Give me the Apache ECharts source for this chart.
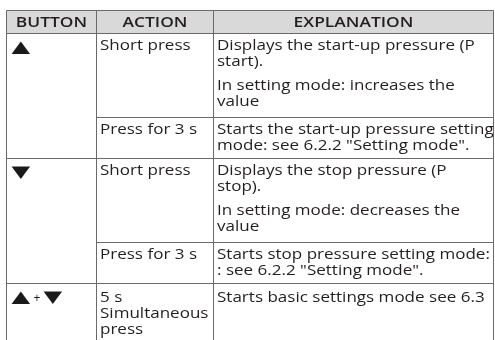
<!DOCTYPE html>
<html><head><meta charset="utf-8">
<script src="https://cdn.jsdelivr.net/npm/echarts@6/dist/echarts.min.js"></script>
<style>html,body{margin:0;padding:0;background:#fff}#c{width:495px;height:340px}</style>
</head><body><div id="c"></div>
<script>
// ---- data ----
const headers = ['BUTTON', 'ACTION', 'EXPLANATION'];
const buttons = ['▲', '▼', '▲+▼'];
const buttonRowSpans = [2, 2, 1];
const actions = [['Short press'], ['Press for 3 s'], ['Short press'], ['Press for 3 s'], ['5 s', 'Simultaneous', 'press']];
const explanations = [
  [['Displays the start-up pressure (P', 'start).'], ['In setting mode: increases the', 'value']],
  [['Starts the start-up pressure setting', 'mode: see 6.2.2 "Setting mode".']],
  [['Displays the stop pressure (P', 'stop).'], ['In setting mode: decreases the', 'value']],
  [['Starts stop pressure setting mode:', ': see 6.2.2 "Setting mode".']],
  [['Starts basic settings mode see 6.3']]
];

// ---- layout (px units of the hidden axes) ----
const colEdges = [0, 90, 207, 487];
const headerH = 23;
const rowHeights = [84, 41, 84, 41, 62];
const rowPadTop = [12.5, 12.5, 12.5, 12.5, 14.5];
const FONT = 'Open Sans';
const FS = 15;
const SX = 1.135;
const LH = 16;
const PARA = 8;
const TEXT = '#231f20';
const LINE = '#6a6a6a';

const rowEdges = [headerH];
rowHeights.forEach(h => rowEdges.push(rowEdges[rowEdges.length - 1] + h));

const cells = [];
headers.forEach((h, i) => cells.push({ kind: 'header', col: i, r0: 0, r1: headerH, text: h }));
let r = 0;
buttons.forEach((b, i) => {
  cells.push({ kind: 'button', col: 0, r0: rowEdges[r], r1: rowEdges[r + buttonRowSpans[i]], text: b });
  r += buttonRowSpans[i];
});
actions.forEach((a, i) => cells.push({ kind: 'lines', col: 1, row: i, r0: rowEdges[i], r1: rowEdges[i + 1], paras: [a] }));
explanations.forEach((e, i) => cells.push({ kind: 'lines', col: 2, row: i, r0: rowEdges[i], r1: rowEdges[i + 1], paras: e }));

function renderItem(params, api) {
  const c = cells[api.value(0)];
  const p0 = api.coord([colEdges[c.col], c.r0]);
  const p1 = api.coord([colEdges[c.col + 1], c.r1]);
  const x0 = Math.round(p0[0]) + 0.5, y0 = Math.round(p0[1]) + 0.5;
  const x1 = Math.round(p1[0]) + 0.5, y1 = Math.round(p1[1]) + 0.5;
  const children = [{
    type: 'rect',
    shape: { x: x0, y: y0, width: x1 - x0, height: y1 - y0 },
    style: { fill: c.kind === 'header' ? '#d9d9d9' : 'rgba(0,0,0,0)', stroke: LINE, lineWidth: 1 }
  }];
  if (c.kind === 'header') {
    children.push({ type: 'text', x: (x0 + x1) / 2, y: (y0 + y1) / 2 + 0.5, scaleX: 1.16,
      style: { text: c.text, fill: TEXT, fontFamily: FONT, fontSize: 15, fontWeight: 600, align: 'center', verticalAlign: 'middle' } });
  } else if (c.kind === 'button') {
    const parts = c.text.split('');
    let x = x0 + 5;
    parts.forEach(ch => {
      if (ch === '+') {
        children.push({ type: 'text', x: x + 1, y: y0 + 15, style: { text: '+', fill: TEXT, fontFamily: FONT, fontSize: 12, align: 'left', verticalAlign: 'middle' } });
        x += 11;
      } else {
        children.push({ type: 'text', x: x, y: y0 + 14, scaleX: 1.35, scaleY: 0.9,
          style: { text: ch, fill: '#1a1a1a', fontFamily: 'DejaVu Sans', fontSize: 18, align: 'left', verticalAlign: 'middle' } });
        x += 21;
      }
    });
  } else {
    let y = y0 + rowPadTop[c.row];
    c.paras.forEach((para, pi) => {
      if (pi > 0) y += PARA;
      para.forEach(line => {
        children.push({ type: 'text', x: x0 + 3.5, y: y, scaleX: SX,
          style: { text: line, fill: TEXT, fontFamily: FONT, fontSize: FS, align: 'left', verticalAlign: 'middle' } });
        y += LH;
      });
    });
  }
  return { type: 'group', children };
}

const chart = echarts.init(document.getElementById('c'), null, { renderer: 'canvas' });
chart.setOption({
  animation: false,
  grid: { left: 6, top: 10, width: 487, height: 330 },
  xAxis: { type: 'value', min: 0, max: 487, show: false },
  yAxis: { type: 'value', min: 0, max: 330, inverse: true, show: false },
  series: [{
    type: 'custom',
    renderItem: renderItem,
    clip: false,
    data: cells.map((c, i) => [i])
  }]
});
</script>
</body></html>
